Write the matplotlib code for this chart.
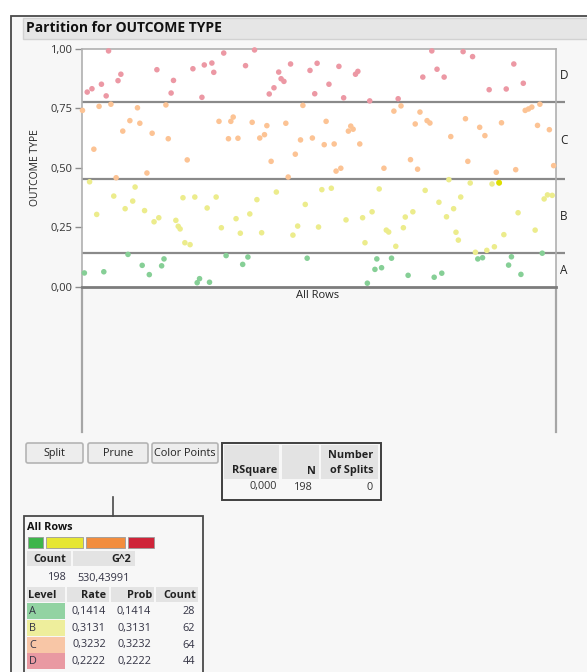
import matplotlib
matplotlib.use("Agg")
import matplotlib.pyplot as plt
from matplotlib.patches import Rectangle, FancyBboxPatch
import matplotlib.transforms as mtransforms

plt.rcParams['font.family'] = ['Open Sans', 'DejaVu Sans']

# ---------------- data ----------------
levels = ['A', 'B', 'C', 'D']
level_rates = [0.1414, 0.3131, 0.3232, 0.2222]
level_probs = [0.1414, 0.3131, 0.3232, 0.2222]
level_counts = [28, 62, 64, 44]
total_count = 198
g2_value = '530,43991'
rsquare_value = '0,000'
n_splits = 0
ytick_vals = [0.0, 0.25, 0.5, 0.75, 1.0]
ytick_labels = ['0,00', '0,25', '0,50', '0,75', '1,00']

# point positions (x: row position 0-100, y: outcome jitter value)
a_x = [0.5, 4.6, 9.7, 12.7, 14.2, 16.8, 17.3, 24.3, 24.8, 26.9, 30.4, 33.9, 35.0, 47.5,
       60.2, 61.8, 63.2, 62.2, 65.3, 68.8, 74.3, 75.9, 83.5, 84.5, 90.0, 90.6, 92.6, 97.1]
a_y = [0.059, 0.064, 0.137, 0.091, 0.052, 0.089, 0.118, 0.018, 0.035, 0.020, 0.132, 0.095, 0.126, 0.121,
       0.016, 0.074, 0.081, 0.118, 0.121, 0.049, 0.041, 0.058, 0.118, 0.123, 0.092, 0.127, 0.053, 0.142]

b_x = [1.6, 3.1, 6.7, 9.1, 10.7, 11.2, 13.2, 15.2, 16.2, 19.8, 20.3, 20.7, 21.7, 22.8, 21.3,
       23.8, 26.4, 28.3, 29.4, 32.5, 33.4, 35.4, 36.9, 37.9, 41.0, 44.5, 45.5, 47.1, 49.9, 50.6,
       52.6, 55.7, 59.2, 61.2, 62.7, 59.7, 64.2, 64.7, 66.2, 67.8, 68.2, 69.8, 72.4, 75.3, 76.9,
       77.4, 78.4, 79.9, 78.9, 79.4, 81.9, 83.0, 85.4, 87.0, 89.0, 86.5, 88.0, 92.0, 95.6, 97.5,
       98.2, 99.2]
b_y = [0.442, 0.305, 0.382, 0.329, 0.361, 0.420, 0.321, 0.274, 0.291, 0.280, 0.255, 0.244, 0.186, 0.178, 0.375,
       0.378, 0.332, 0.378, 0.249, 0.287, 0.226, 0.307, 0.367, 0.228, 0.399, 0.218, 0.256, 0.347, 0.252, 0.409,
       0.415, 0.282, 0.291, 0.316, 0.412, 0.186, 0.239, 0.231, 0.171, 0.249, 0.294, 0.316, 0.406, 0.356, 0.295,
       0.451, 0.329, 0.378, 0.230, 0.197, 0.437, 0.146, 0.154, 0.169, 0.220, 0.433, 0.438, 0.312, 0.239, 0.370,
       0.387, 0.385]
b_highlight = [88.0, 0.438]

c_x = [0.1, 3.6, 6.1, 11.7, 17.7, 10.1, 12.2, 8.6, 14.8, 18.2, 2.5, 22.2, 13.7, 7.2, 28.9,
       31.4, 31.9, 30.9, 32.9, 35.9, 39.0, 37.5, 38.5, 39.9, 43.0, 46.6, 48.6, 46.1, 45.0, 43.5,
       51.5, 51.1, 53.2, 56.2, 56.7, 57.2, 58.6, 53.6, 54.6, 63.7, 65.8, 67.3, 71.3, 70.3, 72.8,
       73.4, 69.3, 70.8, 77.8, 80.9, 81.4, 83.9, 85.0, 87.4, 88.5, 91.5, 93.5, 94.2, 94.9, 96.6,
       96.1, 98.6, 99.5]
c_y = [0.742, 0.759, 0.768, 0.753, 0.765, 0.699, 0.688, 0.655, 0.646, 0.623, 0.579, 0.534, 0.479, 0.459, 0.696,
       0.696, 0.714, 0.623, 0.625, 0.692, 0.678, 0.626, 0.640, 0.528, 0.688, 0.763, 0.626, 0.618, 0.558, 0.462,
       0.696, 0.598, 0.601, 0.655, 0.676, 0.663, 0.601, 0.487, 0.499, 0.499, 0.739, 0.761, 0.735, 0.685, 0.699,
       0.689, 0.535, 0.495, 0.632, 0.707, 0.528, 0.671, 0.636, 0.482, 0.690, 0.493, 0.742, 0.748, 0.756, 0.768,
       0.679, 0.661, 0.510]

d_x = [5.6, 1.1, 2.1, 4.1, 5.1, 7.6, 8.2, 15.8, 19.3, 18.8, 23.4, 25.8, 27.4, 27.8, 29.9,
       25.3, 34.5, 36.4, 39.5, 40.5, 41.5, 42.0, 42.6, 44.0, 48.1, 49.6, 49.1, 54.2, 52.1, 55.2,
       57.7, 58.2, 60.7, 66.7, 71.9, 73.8, 74.9, 76.4, 80.4, 82.4, 85.9, 89.5, 91.1, 93.1]
d_y = [0.992, 0.819, 0.833, 0.852, 0.803, 0.867, 0.894, 0.913, 0.868, 0.815, 0.917, 0.933, 0.941, 0.902, 0.983,
       0.797, 0.930, 0.996, 0.811, 0.837, 0.903, 0.875, 0.864, 0.937, 0.910, 0.940, 0.812, 0.927, 0.852, 0.795,
       0.894, 0.906, 0.782, 0.791, 0.882, 0.992, 0.915, 0.882, 0.989, 0.968, 0.829, 0.832, 0.937, 0.856]

point_colors = {'A': '#86cf96', 'B': '#ecec8c', 'C': '#fcc394', 'D': '#ec98a4'}
swatch_colors = ['#3db54a', '#e6e632', '#f28d3e', '#cf2439']
cell_colors = ['#92d3a2', '#eeee9c', '#f8c6a6', '#e999a2']

# ---------------- figure ----------------
W, H = 587, 672
fig = plt.figure(figsize=(W / 100, H / 100), dpi=100)
fig.patch.set_facecolor('white')

bg = fig.add_axes([0, 0, 1, 1])
bg.set_xlim(0, W)
bg.set_ylim(H, 0)
bg.axis('off')
bg.set_zorder(0)

# outer panel
bg.add_patch(Rectangle((10.5, 15.5), W, H, fc='#f7f7f7', ec='#4a4a4a', lw=1.3))
# title bar
bg.add_patch(Rectangle((23, 18), W, 21, fc='#e6e6e6', ec='#d2d2d2', lw=1))
bg.text(26, 28.5, 'Partition for OUTCOME TYPE', fontsize=10, fontweight='bold',
        va='center', ha='left', color='#111111')

# lower extension of the plot frame
bg.plot([82, 82], [287, 432], color='#a6a6a6', lw=1.6)
bg.plot([556, 556], [287, 432], color='#a6a6a6', lw=1.6)
bg.text(318, 295, 'All Rows', fontsize=8, ha='center', va='center', color='#222222')

# y axis label
bg.text(36, 168, 'OUTCOME TYPE', fontsize=7.5, rotation=90, ha='center', va='center',
        color='#222222')

# ---------------- main plot ----------------
ax = fig.add_axes([82 / W, 1 - 287 / H, 474 / W, 238 / H])
ax.set_zorder(2)
ax.set_facecolor('white')
ax.set_xlim(0, 100)
ax.set_ylim(0, 1)
ax.set_xticks([])
ax.set_yticks(ytick_vals)
ax.set_yticklabels(ytick_labels)
ax.tick_params(axis='y', length=5, width=1, color='#8c8c8c', labelsize=8, labelcolor='#333333', pad=2)
for s in ['left', 'right', 'top']:
    ax.spines[s].set_color('#b0b0b0')
    ax.spines[s].set_linewidth(1.2)
ax.spines['bottom'].set_color('#7c7c7c')
ax.spines['bottom'].set_linewidth(2)

ax.scatter(a_x, a_y, s=16, c=point_colors['A'], edgecolors='none', zorder=3, clip_on=False)
ax.scatter(b_x, b_y, s=16, c=point_colors['B'], edgecolors='none', zorder=3, clip_on=False)
ax.scatter(c_x, c_y, s=16, c=point_colors['C'], edgecolors='none', zorder=3, clip_on=False)
ax.scatter(d_x, d_y, s=16, c=point_colors['D'], edgecolors='none', zorder=3, clip_on=False)
ax.scatter([b_highlight[0]], [b_highlight[1]], s=18, c='#dede00', edgecolors='none', zorder=4)

bounds = []
acc = 0.0
for r in level_rates[:-1]:
    acc += r
    bounds.append(acc)
yt = ax.get_yaxis_transform()
ax.hlines(bounds, 0, 1.02, transform=yt, colors='#8a8a8a', lw=1.6, clip_on=False, zorder=2)

edges = [0.0] + bounds + [1.0]
for i, lab in enumerate(levels):
    mid = (edges[i] + edges[i + 1]) / 2
    ax.text(1.008, mid, lab, transform=yt, fontsize=8.5, ha='left', va='center', color='#222222')

# ---------------- buttons ----------------
def button(x0, x1, label):
    bg.add_patch(FancyBboxPatch((x0, 443), x1 - x0, 20, boxstyle='round,pad=0,rounding_size=2',
                                fc='#ededed', ec='#b4b4b4', lw=1.2))
    bg.text((x0 + x1) / 2, 453.5, label, fontsize=7.8, ha='center', va='center', color='#222222')

button(26, 83, 'Split')
button(88, 148, 'Prune')
button(152, 218, 'Color Points')

# ---------------- stats box ----------------
bg.add_patch(Rectangle((222, 443), 159, 57, fc='#f7f7f7', ec='#404040', lw=1.4))
bg.add_patch(Rectangle((224, 445), 55, 34, fc='#e3e3e3', ec='none'))
bg.add_patch(Rectangle((282, 445), 37, 34, fc='#e3e3e3', ec='none'))
bg.add_patch(Rectangle((321, 445), 57, 34, fc='#e3e3e3', ec='none'))
bg.text(277, 471, 'RSquare', fontsize=7.8, fontweight='bold', ha='right', va='center', color='#222222')
bg.text(316, 471, 'N', fontsize=7.8, fontweight='bold', ha='right', va='center', color='#222222')
bg.text(373, 455, 'Number', fontsize=7.8, fontweight='bold', ha='right', va='center', color='#222222')
bg.text(373, 471, 'of Splits', fontsize=7.8, fontweight='bold', ha='right', va='center', color='#222222')
bg.text(277, 487, rsquare_value, fontsize=7.8, ha='right', va='center', color='#333333')
bg.text(313, 487, str(total_count), fontsize=7.8, ha='right', va='center', color='#333333')
bg.text(373, 487, str(n_splits), fontsize=7.8, ha='right', va='center', color='#333333')

# connector
bg.plot([113, 113], [497, 516], color='#4a4a4a', lw=1.2)

# ---------------- node box ----------------
bg.add_patch(Rectangle((24, 516), 179, 200, fc='#f7f7f7', ec='#4a4a4a', lw=1.3))
bg.text(27, 528, 'All Rows', fontsize=7.8, fontweight='bold', ha='left', va='center', color='#111111')
sw_x = [(28, 43), (46, 83), (86, 125), (128, 154)]
for (x0, x1), col in zip(sw_x, swatch_colors):
    bg.add_patch(Rectangle((x0, 537), x1 - x0, 11, fc=col, ec='#9a9a9a', lw=0.6))

bg.add_patch(Rectangle((27, 551), 44, 15, fc='#e3e3e3', ec='none'))
bg.add_patch(Rectangle((73, 551), 62, 15, fc='#e3e3e3', ec='none'))
bg.text(50, 559, 'Count', fontsize=7.8, fontweight='bold', ha='center', va='center', color='#222222')
bg.text(131, 559, 'G^2', fontsize=7.8, fontweight='bold', ha='right', va='center', color='#222222')
bg.text(67, 578, str(total_count), fontsize=7.8, ha='right', va='center', color='#333344')
bg.text(77, 578, g2_value, fontsize=7.8, ha='left', va='center', color='#333344')

hdr_cells = [(27, 65), (67, 109), (111, 154), (156, 198)]
for x0, x1 in hdr_cells:
    bg.add_patch(Rectangle((x0, 587), x1 - x0, 15, fc='#e3e3e3', ec='none'))
bg.text(28, 595, 'Level', fontsize=7.8, fontweight='bold', ha='left', va='center', color='#222222')
bg.text(106, 595, 'Rate', fontsize=7.8, fontweight='bold', ha='right', va='center', color='#222222')
bg.text(152, 595, 'Prob', fontsize=7.8, fontweight='bold', ha='right', va='center', color='#222222')
bg.text(196, 595, 'Count', fontsize=7.8, fontweight='bold', ha='right', va='center', color='#222222')

row_top = 603
row_h = 16.8
for i, lab in enumerate(levels):
    y0 = row_top + i * row_h
    yc = y0 + row_h / 2
    bg.add_patch(Rectangle((27, y0), 38, row_h - 0.8, fc=cell_colors[i], ec='none'))
    bg.text(29, yc, lab, fontsize=7.8, ha='left', va='center', color='#333344')
    bg.text(106, yc, f'{level_rates[i]:.4f}'.replace('.', ','), fontsize=7.8, ha='right',
            va='center', color='#333344')
    bg.text(151, yc, f'{level_probs[i]:.4f}'.replace('.', ','), fontsize=7.8, ha='right',
            va='center', color='#333344')
    bg.text(195, yc, str(level_counts[i]), fontsize=7.8, ha='right', va='center', color='#333344')

fig.savefig('out.png', dpi=100, facecolor=fig.get_facecolor())
